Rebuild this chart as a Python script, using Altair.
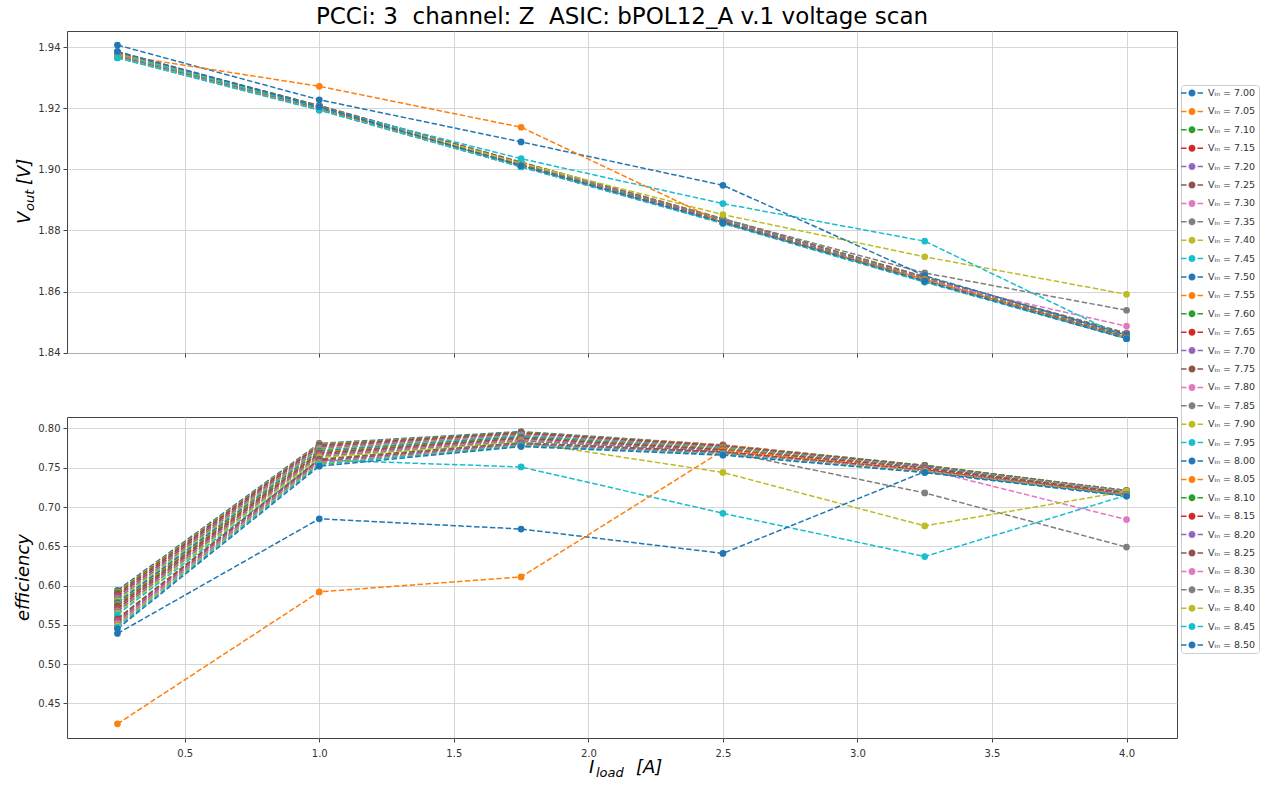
import altair as alt
import pandas as pd

# ---------------- data ----------------
iload = [0.25, 1.0, 1.75, 2.5, 3.25, 4.0]

vin = [7.00, 7.05, 7.10, 7.15, 7.20, 7.25, 7.30, 7.35, 7.40, 7.45,
       7.50, 7.55, 7.60, 7.65, 7.70, 7.75, 7.80, 7.85, 7.90, 7.95,
       8.00, 8.05, 8.10, 8.15, 8.20, 8.25, 8.30, 8.35, 8.40, 8.45, 8.50]

vout = [
    [1.9384, 1.9209, 1.9024, 1.8839, 1.8649, 1.8464],  # 7.00
    [1.9383, 1.9208, 1.9023, 1.8838, 1.8648, 1.8463],  # 7.05
    [1.9382, 1.9208, 1.9022, 1.8837, 1.8647, 1.8462],  # 7.10
    [1.9381, 1.9207, 1.9022, 1.8836, 1.8646, 1.8461],  # 7.15
    [1.9380, 1.9206, 1.9021, 1.8836, 1.8645, 1.8460],  # 7.20
    [1.9379, 1.9205, 1.9020, 1.8835, 1.8644, 1.8459],  # 7.25
    [1.9378, 1.9205, 1.9019, 1.8834, 1.8643, 1.8458],  # 7.30
    [1.9378, 1.9204, 1.9019, 1.8833, 1.8642, 1.8457],  # 7.35
    [1.9377, 1.9203, 1.9018, 1.8832, 1.8641, 1.8456],  # 7.40
    [1.9376, 1.9203, 1.9017, 1.8832, 1.8641, 1.8455],  # 7.45
    [1.9375, 1.9202, 1.9016, 1.8831, 1.8640, 1.8454],  # 7.50
    [1.9374, 1.9201, 1.9016, 1.8830, 1.8639, 1.8453],  # 7.55
    [1.9373, 1.9201, 1.9015, 1.8829, 1.8638, 1.8452],  # 7.60
    [1.9372, 1.9200, 1.9014, 1.8829, 1.8637, 1.8451],  # 7.65
    [1.9372, 1.9199, 1.9013, 1.8828, 1.8637, 1.8451],  # 7.70
    [1.9371, 1.9199, 1.9013, 1.8827, 1.8636, 1.8450],  # 7.75
    [1.9370, 1.9198, 1.9012, 1.8827, 1.8636, 1.8487],  # 7.80
    [1.9370, 1.9198, 1.9012, 1.8838, 1.8661, 1.8539],  # 7.85
    [1.9376, 1.9203, 1.9020, 1.8852, 1.8714, 1.8591],  # 7.90
    [1.9375, 1.9202, 1.9035, 1.8888, 1.8765, 1.8447],  # 7.95
    [1.9407, 1.9228, 1.9090, 1.8948, 1.8652, 1.8458],  # 8.00
    [1.9375, 1.9272, 1.9138, 1.8825, 1.8640, 1.8450],  # 8.05
    [1.9369, 1.9197, 1.9011, 1.8826, 1.8635, 1.8449],  # 8.10
    [1.9368, 1.9197, 1.9011, 1.8826, 1.8634, 1.8449],  # 8.15
    [1.9368, 1.9196, 1.9010, 1.8825, 1.8634, 1.8448],  # 8.20
    [1.9367, 1.9196, 1.9010, 1.8825, 1.8633, 1.8448],  # 8.25
    [1.9367, 1.9195, 1.9009, 1.8824, 1.8633, 1.8447],  # 8.30
    [1.9366, 1.9195, 1.9009, 1.8824, 1.8632, 1.8447],  # 8.35
    [1.9366, 1.9195, 1.9009, 1.8824, 1.8632, 1.8446],  # 8.40
    [1.9365, 1.9194, 1.9008, 1.8823, 1.8631, 1.8446],  # 8.45
    [1.9386, 1.9205, 1.9012, 1.8826, 1.8634, 1.8446],  # 8.50
]

eff = [
    [0.594, 0.781, 0.796, 0.779, 0.753, 0.721],  # 7.00
    [0.592, 0.780, 0.795, 0.779, 0.753, 0.721],  # 7.05
    [0.591, 0.779, 0.795, 0.778, 0.753, 0.721],  # 7.10
    [0.589, 0.778, 0.794, 0.778, 0.752, 0.720],  # 7.15
    [0.587, 0.777, 0.793, 0.777, 0.752, 0.720],  # 7.20
    [0.586, 0.776, 0.793, 0.777, 0.752, 0.720],  # 7.25
    [0.584, 0.775, 0.792, 0.776, 0.751, 0.720],  # 7.30
    [0.583, 0.774, 0.791, 0.776, 0.751, 0.719],  # 7.35
    [0.581, 0.773, 0.790, 0.775, 0.750, 0.719],  # 7.40
    [0.579, 0.772, 0.790, 0.775, 0.750, 0.719],  # 7.45
    [0.578, 0.771, 0.789, 0.774, 0.750, 0.718],  # 7.50
    [0.576, 0.770, 0.788, 0.774, 0.749, 0.718],  # 7.55
    [0.575, 0.769, 0.788, 0.773, 0.749, 0.718],  # 7.60
    [0.573, 0.768, 0.787, 0.773, 0.749, 0.718],  # 7.65
    [0.571, 0.767, 0.786, 0.772, 0.748, 0.717],  # 7.70
    [0.570, 0.766, 0.785, 0.772, 0.748, 0.717],  # 7.75
    [0.568, 0.765, 0.785, 0.771, 0.748, 0.684],  # 7.80
    [0.567, 0.764, 0.784, 0.771, 0.718, 0.649],  # 7.85
    [0.565, 0.763, 0.783, 0.744, 0.676, 0.720],  # 7.90
    [0.563, 0.760, 0.751, 0.692, 0.637, 0.715],  # 7.95
    [0.539, 0.685, 0.672, 0.641, 0.745, 0.715],  # 8.00
    [0.424, 0.592, 0.611, 0.772, 0.747, 0.716],  # 8.05
    [0.558, 0.761, 0.782, 0.770, 0.747, 0.716],  # 8.10
    [0.557, 0.760, 0.781, 0.770, 0.747, 0.716],  # 8.15
    [0.555, 0.759, 0.781, 0.769, 0.746, 0.716],  # 8.20
    [0.553, 0.758, 0.780, 0.769, 0.746, 0.715],  # 8.25
    [0.552, 0.757, 0.779, 0.768, 0.746, 0.715],  # 8.30
    [0.550, 0.756, 0.779, 0.768, 0.745, 0.715],  # 8.35
    [0.549, 0.755, 0.778, 0.767, 0.745, 0.715],  # 8.40
    [0.547, 0.754, 0.778, 0.767, 0.744, 0.714],  # 8.45
    [0.545, 0.752, 0.777, 0.766, 0.744, 0.714],  # 8.50
]

x_ticks = [0.5, 1.0, 1.5, 2.0, 2.5, 3.0, 3.5, 4.0]
vout_ticks = [1.84, 1.86, 1.88, 1.90, 1.92, 1.94]
eff_ticks = [0.45, 0.50, 0.55, 0.60, 0.65, 0.70, 0.75, 0.80]

tab10 = ["#1f77b4", "#ff7f0e", "#2ca02c", "#d62728", "#9467bd",
         "#8c564b", "#e377c2", "#7f7f7f", "#bcbd22", "#17becf"]

# ---------------- table ----------------
labels = ["V\u1d62\u2099 = %.2f" % v for v in vin]
rows = []
for k, lab in enumerate(labels):
    for j, x in enumerate(iload):
        rows.append({"series": lab, "k": k, "iload": x,
                     "vout": vout[k][j], "eff": eff[k][j]})
df = pd.DataFrame(rows)

colors = [tab10[i % 10] for i in range(len(labels))]
color_scale = alt.Scale(domain=labels, range=colors)

FONT = "DejaVu Sans"
W, H1, H2 = 1110, 322, 321

x_scale = alt.Scale(domain=[0.0625, 4.1875], nice=False, zero=False)

legend_path = ("M-2.2,-0.15H-1.1V0.15H-2.2Z M1.1,-0.15H2.2V0.15H1.1Z "
               "M0.7,0A0.7,0.7,0,1,1,-0.7,0A0.7,0.7,0,1,1,0.7,0Z")

legend = alt.Legend(
    title=None, orient="none", legendX=1114, legendY=54,
    symbolType=legend_path, symbolSize=100, symbolStrokeWidth=0,
    symbolOpacity=1, symbolLimit=40,
    symbolOffset=3, labelOffset=11, rowPadding=8.4,
    labelFont=FONT, labelFontSize=9.5, labelColor="#333",
    strokeColor="#cccccc", fillColor="white", cornerRadius=3, padding=3,
)


def panel(field, domain, ticks, height, top):
    base = alt.Chart(df)
    xaxis = alt.Axis(values=x_ticks, format=".1f", labels=not top,
                     title=None, grid=True, labelPadding=6)
    yaxis = alt.Axis(values=ticks, format=".2f", title=None, grid=True)
    x = alt.X("iload:Q", scale=x_scale, axis=xaxis)
    y = alt.Y(field + ":Q", scale=alt.Scale(domain=domain, nice=False, zero=False),
              axis=yaxis)
    color = alt.Color("series:N", scale=color_scale, legend=legend)
    line = base.mark_line(strokeDash=[5.5, 2.4], strokeWidth=1.5).encode(
        x=x, y=y, color=color,
        detail="series:N",
        order=alt.Order("iload:Q"),
    )
    pts = base.mark_point(filled=True, size=45, opacity=1).encode(
        x=x, y=y, color=color,
    )
    return line, pts


one = pd.DataFrame({"a": [0]})


def txt(s, x, y, size, angle=0, align="left", baseline="alphabetic"):
    return alt.Chart(one).mark_text(
        text=s, font=FONT, fontStyle="italic", fontSize=size, angle=angle,
        align=align, baseline=baseline, color="black",
    ).encode(x=alt.value(x), y=alt.value(y))


l1, p1 = panel("vout", [1.8399, 1.9453], vout_ticks, H1, True)
l2, p2 = panel("eff", [0.406, 0.8146], eff_ticks, H2, False)

# axis titles with subscripts
vtitle = [
    txt("V", -37, 193, 18, angle=270),
    txt("out", -33, 180, 13, angle=270),
    txt("[V]", -37, 154, 18, angle=270),
]
ititle = [
    txt("I", 522, 356, 18),
    txt("load", 529, 360, 13),
    txt("[A]", 569, 356, 18),
]
etitle = [txt("efficiency", -43, H2 / 2, 18, angle=270, align="center",
              baseline="middle")]

top = alt.layer(l1, p1, *vtitle).properties(width=W, height=H1)
bottom = alt.layer(l2, p2, *ititle, *etitle).properties(width=W, height=H2)

chart = alt.vconcat(top, bottom, spacing=57).properties(
    title=alt.Title("PCCi: 3 \u00a0channel: Z \u00a0ASIC: bPOL12_A v.1 voltage scan",
                    font=FONT, fontSize=23, fontWeight="normal", color="black",
                    anchor="middle", frame="group", offset=2),
    padding={"left": 14, "top": 5, "right": 0, "bottom": 0},
).resolve_scale(color="shared").resolve_legend(color="shared").configure_view(
    stroke="#444", strokeWidth=1
).configure_axis(
    domain=False, tickColor="#444", tickSize=4, labelFont=FONT,
    labelFontSize=10, labelColor="#333", gridColor="#cccccc", gridWidth=0.8,
    labelPadding=3,
)

chart.save("out.html", embed_options={"renderer": "svg", "actions": False})
